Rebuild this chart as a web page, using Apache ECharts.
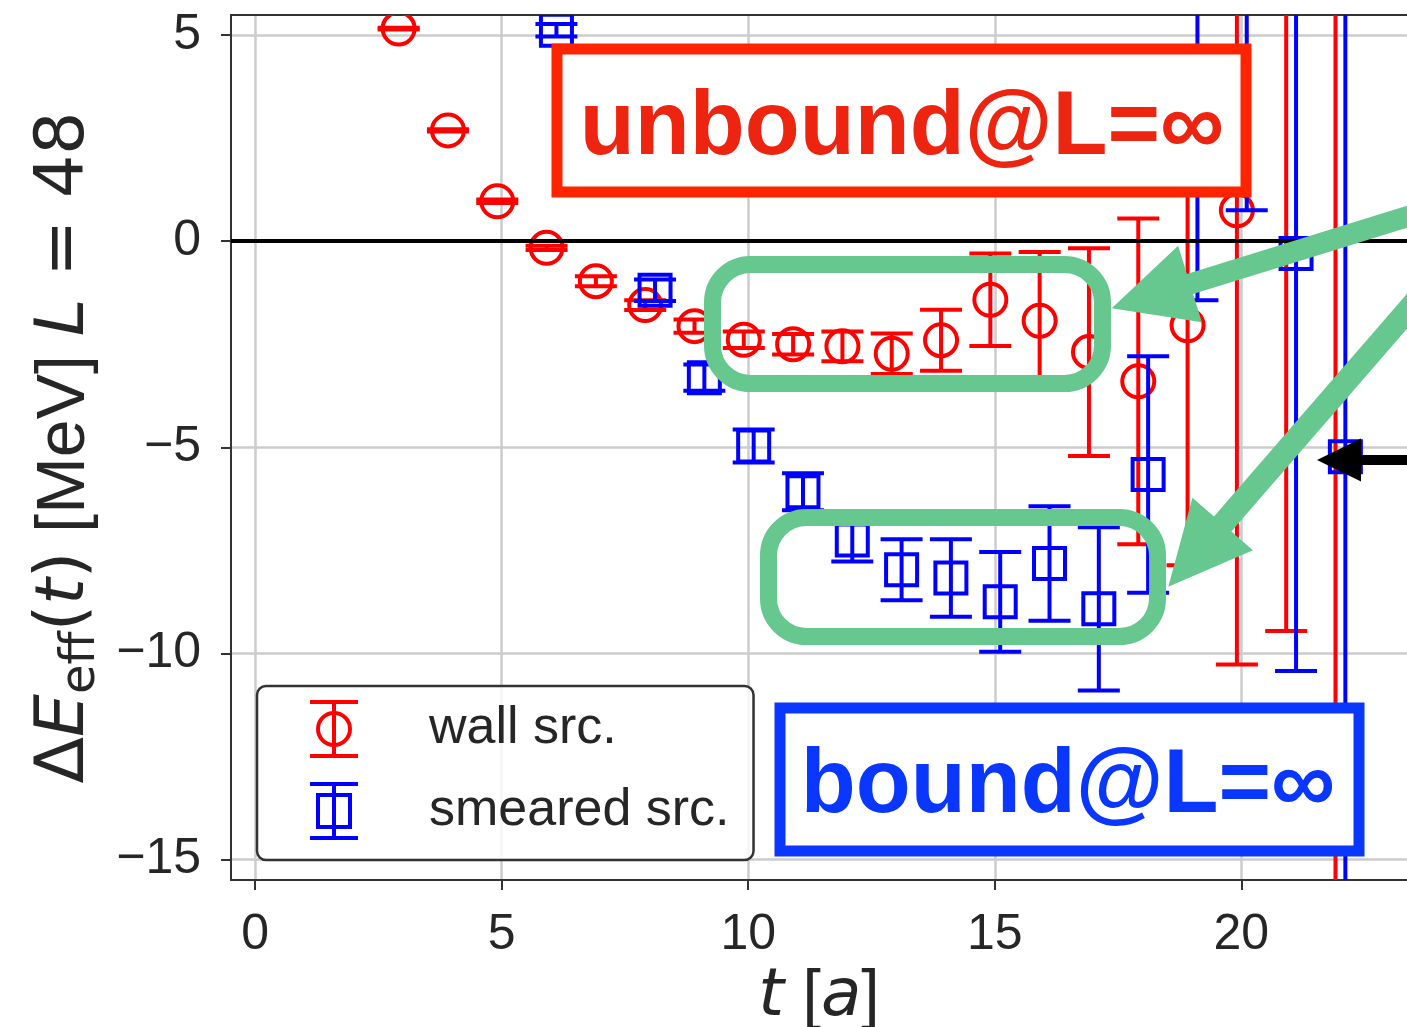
<!DOCTYPE html>
<html>
<head>
<meta charset="utf-8">
<script src="https://cdn.jsdelivr.net/npm/echarts@6/dist/echarts.min.js"></script>
<style>
html,body{margin:0;padding:0;background:#fff;}
#chart{width:1407px;height:1027px;}
</style>
</head>
<body>
<div id="chart"></div>
<script>
// ---- data ----
const tWall = [3,4,5,6,7,8,9,10,11,12,13,14,15,16,17,18,19,20,21,22];
const wallE = [5.16,2.69,0.97,-0.16,-0.97,-1.55,-2.06,-2.39,-2.50,-2.55,-2.73,-2.40,-1.42,-1.93,-2.69,-3.40,-2.04,0.75,7.0,10.0];
const wallErr = [0.02,0.03,0.04,0.05,0.12,0.12,0.16,0.20,0.25,0.36,0.49,0.74,1.12,1.67,2.52,3.95,5.82,11.02,16.46,30];

const tSmear = [6,7,8,9,10,11,12,13,14,15,16,17,18,19,20,21,22];
const smearE = [5.12,2.5,-1.19,-3.31,-4.97,-6.08,-7.25,-7.97,-8.17,-8.75,-7.82,-8.92,-5.66,2.5,7.0,-0.3,-5.23];
const smearErr = [0.15,0.3,0.26,0.32,0.40,0.45,0.52,0.74,0.94,1.21,1.39,1.98,2.87,3.93,6.25,10.13,12];

const xTicks = [0,5,10,15,20];
const yTicks = [-15,-10,-5,0,5];
const seriesNames = ['wall src.','smeared src.'];
const unboundLabel = 'unbound@L=∞';
const boundLabel = 'bound@L=∞';

// ---- helpers ----
const RED = '#ff0000', BLUE = '#0000ff', GREEN = '#66c78f';
const SANS = '"Liberation Sans", Arial, sans-serif';
const MATH = '"DejaVu Sans", sans-serif';
const X_MIN = -0.49, X_MAX = 23.36, Y_MIN = -15.5, Y_MAX = 5.49;

function makeRender(color, shape, dx) {
  return function (params, api) {
    const t = api.value(0) + dx, y = api.value(1), e = api.value(2);
    const c = api.coord([t, y]);
    const hi = api.coord([t, y + e]);
    const lo = api.coord([t, y - e]);
    const cw = 21;
    const ls = {stroke: color, lineWidth: 4, fill: null};
    const children = [
      {type: 'line', shape: {x1: c[0], y1: hi[1], x2: c[0], y2: lo[1]}, style: ls},
      {type: 'line', shape: {x1: c[0]-cw, y1: hi[1], x2: c[0]+cw, y2: hi[1]}, style: ls},
      {type: 'line', shape: {x1: c[0]-cw, y1: lo[1], x2: c[0]+cw, y2: lo[1]}, style: ls}
    ];
    if (shape === 'circle') {
      children.push({type: 'circle', shape: {cx: c[0], cy: c[1], r: 16}, style: {stroke: color, lineWidth: 4, fill: 'rgba(0,0,0,0)'}});
    } else {
      children.push({type: 'rect', shape: {x: c[0]-15.5, y: c[1]-15.5, width: 31, height: 31}, style: {stroke: color, lineWidth: 4, fill: 'rgba(0,0,0,0)'}});
    }
    return {type: 'group', children: children};
  };
}

function arrowPts(tip, ux, uy, headLen, headHalf, shaftHalf, total) {
  const px = -uy, py = ux;
  const bx = tip[0] + ux*headLen, by = tip[1] + uy*headLen;
  const ex = tip[0] + ux*total, ey = tip[1] + uy*total;
  return [tip,
    [bx+px*headHalf, by+py*headHalf],
    [bx+px*shaftHalf, by+py*shaftHalf],
    [ex+px*shaftHalf, ey+py*shaftHalf],
    [ex-px*shaftHalf, ey-py*shaftHalf],
    [bx-px*shaftHalf, by-py*shaftHalf],
    [bx-px*headHalf, by-py*headHalf]];
}

const wallData = tWall.map((t,i) => [t, wallE[i], wallErr[i]]);
const smearData = tSmear.map((t,i) => [t, smearE[i], smearErr[i]]);

const minus = v => String(v).replace('-', '\u2212');

const chart = echarts.init(document.getElementById('chart'), null, {renderer: 'canvas'});
chart.setOption({
  animation: false,
  backgroundColor: '#ffffff',
  grid: {left: 231, top: 15, right: 0, bottom: 147, containLabel: false, outerBoundsMode: 'none'},
  xAxis: [{
    type: 'value', min: X_MIN, max: X_MAX,
    axisLine: {show: true, onZero: false, lineStyle: {color: '#333333', width: 2}},
    axisTick: {show: true, length: 10, lineStyle: {color: '#333333', width: 2}, customValues: xTicks},
    axisLabel: {fontSize: 50, fontFamily: SANS, color: '#262626', margin: 30,
      customValues: xTicks, formatter: minus},
    splitLine: {show: true, lineStyle: {color: '#cccccc', width: 2.5}},
    name: '{i|t}{u| [}{i|a}{u|]}',
    nameLocation: 'middle', nameGap: 80,
    nameTextStyle: {rich: {
      i: {fontSize: 66, fontFamily: MATH, fontStyle: 'italic', color: '#262626', lineHeight: 72},
      u: {fontSize: 66, fontFamily: SANS, color: '#262626', lineHeight: 72}
    }}
  }, {
    type: 'value', position: 'top', min: X_MIN, max: X_MAX,
    axisLine: {show: true, onZero: false, lineStyle: {color: '#333333', width: 2}},
    axisTick: {show: false}, axisLabel: {show: false}, splitLine: {show: false}
  }],
  yAxis: {
    type: 'value', min: Y_MIN, max: Y_MAX,
    axisLine: {show: true, onZero: false, lineStyle: {color: '#333333', width: 2}},
    axisTick: {show: true, length: 10, lineStyle: {color: '#333333', width: 2}, customValues: yTicks},
    axisLabel: {fontSize: 50, fontFamily: SANS, color: '#262626', margin: 30,
      customValues: yTicks, formatter: minus},
    splitLine: {show: true, lineStyle: {color: '#cccccc', width: 2.5}},
    name: '{m|Δ}{i|E}{s|eff}{m|(}{i|t}{m|)}{u| [MeV] }{i|L}{m| = 48}',
    nameLocation: 'middle', nameRotate: 90, nameGap: 120,
    nameTextStyle: {rich: {
      m: {fontSize: 68, fontFamily: MATH, color: '#262626', lineHeight: 80, verticalAlign: 'middle'},
      i: {fontSize: 68, fontFamily: MATH, fontStyle: 'italic', color: '#262626', lineHeight: 80, verticalAlign: 'middle'},
      u: {fontSize: 68, fontFamily: SANS, color: '#262626', lineHeight: 80, verticalAlign: 'middle'},
      s: {fontSize: 48, fontFamily: MATH, color: '#262626', lineHeight: 40, verticalAlign: 'bottom'}
    }}
  },
  legend: {
    show: true, orient: 'vertical', left: 257, top: 686,
    padding: [14, 24, 20, 51],
    itemWidth: 48, itemHeight: 54, itemGap: 24,
    backgroundColor: 'rgba(255,255,255,0.8)',
    borderColor: '#333333', borderWidth: 2.5, borderRadius: 9,
    textStyle: {fontSize: 52, fontFamily: SANS, color: '#262626', padding: [0,0,0,66], lineHeight: 54},
    z: 20,
    data: [
      {name: seriesNames[0], icon: 'path://M0,0H48M24,0V54M0,54H48M8,27A16,16,0,1,0,40,27A16,16,0,1,0,8,27Z',
       itemStyle: {color: 'rgba(0,0,0,0)', borderColor: RED, borderWidth: 4}},
      {name: seriesNames[1], icon: 'path://M0,0H48M24,0V54M0,54H48M8,11H40V43H8Z',
       itemStyle: {color: 'rgba(0,0,0,0)', borderColor: BLUE, borderWidth: 4}}
    ]
  },
  series: [
    {name: seriesNames[0], type: 'custom', clip: true, z: 3,
     encode: {x: 0, y: 1}, data: wallData, renderItem: makeRender(RED, 'circle', -0.09),
     itemStyle: {color: RED}},
    {name: seriesNames[1], type: 'custom', clip: true, z: 3,
     encode: {x: 0, y: 1}, data: smearData, renderItem: makeRender(BLUE, 'square', 0.11),
     itemStyle: {color: BLUE},
     markLine: {silent: true, symbol: 'none', label: {show: false}, z: 5,
       lineStyle: {color: '#000000', width: 4, type: 'solid'}, data: [{yAxis: 0}]}}
  ],
  graphic: [
    {type: 'rect', z: 50, shape: {x: 712.5, y: 264.5, width: 390, height: 119, r: 38},
     style: {fill: 'none', stroke: GREEN, lineWidth: 17}},
    {type: 'rect', z: 50, shape: {x: 768.5, y: 517.5, width: 389, height: 119, r: 38},
     style: {fill: 'none', stroke: GREEN, lineWidth: 17}},
    {type: 'polygon', z: 51, shape: {points: arrowPts([1111.7, 308.3], 0.955, -0.296, 82, 40, 10.5, 400)},
     style: {fill: GREEN}},
    {type: 'polygon', z: 51, shape: {points: arrowPts([1168.3, 586.7], 0.655, -0.756, 83, 40, 11.5, 500)},
     style: {fill: GREEN}},
    {type: 'polygon', z: 51, shape: {points: arrowPts([1317, 460], 1, 0, 44, 21.5, 5, 150)},
     style: {fill: '#000000'}},
    {type: 'rect', z: 60, shape: {x: 557, y: 49, width: 689, height: 143},
     style: {fill: '#ffffff', stroke: '#ff2400', lineWidth: 11}},
    {type: 'text', z: 61, x: 902, y: 129,
     style: {text: unboundLabel, fill: '#ec2410', font: 'bold 90px ' + SANS, align: 'center', verticalAlign: 'middle'}},
    {type: 'rect', z: 60, shape: {x: 780, y: 708, width: 579, height: 143},
     style: {fill: '#ffffff', stroke: '#0a37ff', lineWidth: 11}},
    {type: 'text', z: 61, x: 1068, y: 787,
     style: {text: boundLabel, fill: '#0a37ff', font: 'bold 90px ' + SANS, align: 'center', verticalAlign: 'middle'}}
  ]
});
</script>
</body>
</html>
